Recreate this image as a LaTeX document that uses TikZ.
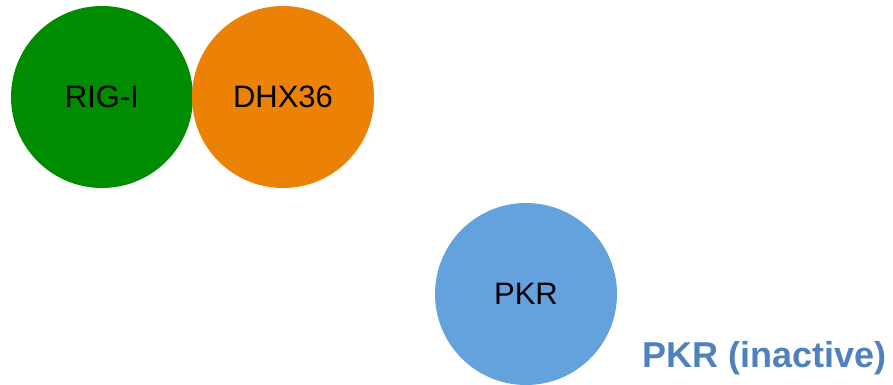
\documentclass[tikz,border=0pt]{standalone}
\usepackage{fontspec}
\setmainfont{Liberation Sans}
\definecolor{rigGreen}{RGB}{0,140,0}
\definecolor{dhxOrange}{RGB}{235,130,5}
\definecolor{pkrBlue}{RGB}{100,162,221}
\definecolor{labelBlue}{RGB}{79,129,189}
\begin{document}
\begin{tikzpicture}[x=1pt, y=-1pt,
            protein/.style={circle, minimum size=182pt, inner sep=0pt, text=black, font=\fontsize{31}{37}\selectfont},
            state/.style={text=labelBlue, font=\fontsize{36}{42}\selectfont\bfseries, inner sep=0pt}
        ]
            \useasboundingbox (0,0) rectangle (893,385);
            \node[protein, fill=rigGreen] (rig) at (102,97) {RIG-I};
            \node[protein, fill=dhxOrange] (dhx) at (283,97) {DHX36};
            \node[protein, fill=pkrBlue] (pkr) at (526,294) {PKR};
            \node[state, anchor=base east] (pkrstate) at (887,367) {PKR (inactive)};
        \end{tikzpicture}
\end{document}
